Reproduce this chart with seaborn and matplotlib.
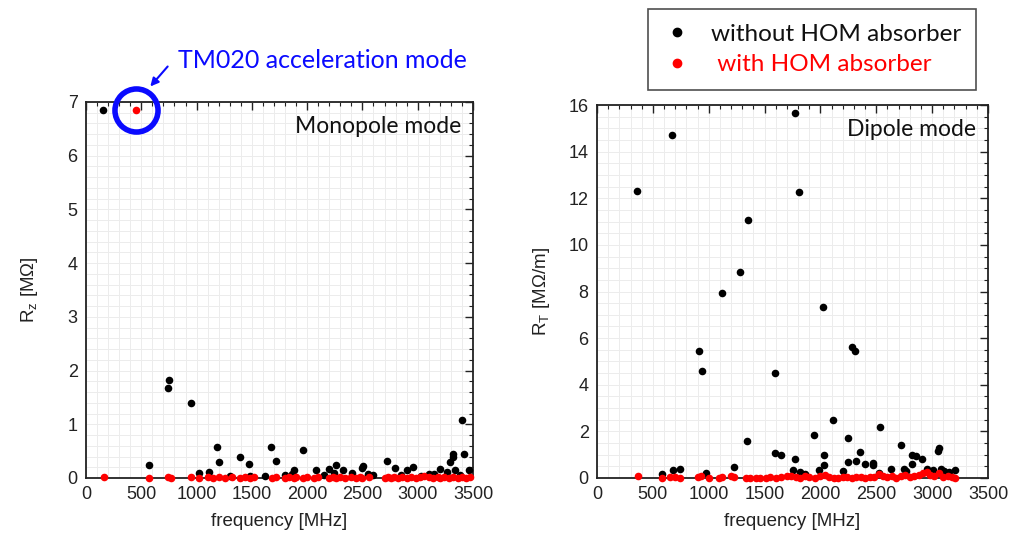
import numpy as np
import pandas as pd
import matplotlib
matplotlib.use("Agg")
import matplotlib.pyplot as plt
from matplotlib.ticker import MultipleLocator
from matplotlib.lines import Line2D
import seaborn as sns

# ---------------- data ----------------
mono_without_f = [155, 574, 738, 753, 952, 1021, 1110, 1184, 1205, 1304, 1393, 1473, 1482,
                  1620, 1670, 1714, 1800, 1863, 1884, 1964, 2083, 2150, 2202, 2247, 2265, 2324,
                  2405, 2497, 2509, 2553, 2600, 2726, 2797, 2850, 2905, 2961, 3030, 3100, 3149,
                  3199, 3268, 3291, 3321, 3321, 3336, 3380, 3402, 3422, 3461]
mono_without_r = [6.85, 0.25, 1.67, 1.83, 1.40, 0.09, 0.12, 0.58, 0.29, 0.04, 0.39, 0.26, 0.04,
                  0.03, 0.57, 0.32, 0.05, 0.08, 0.14, 0.52, 0.14, 0.05, 0.16, 0.10, 0.24, 0.14,
                  0.09, 0.19, 0.23, 0.07, 0.05, 0.32, 0.18, 0.05, 0.15, 0.20, 0.04, 0.08, 0.07,
                  0.17, 0.11, 0.29, 0.45, 0.39, 0.15, 0.05, 1.08, 0.45, 0.15]

mono_with_f = [160, 455, 574, 738, 768, 946, 1021, 1100, 1150, 1200, 1260, 1320, 1390, 1440,
               1480, 1520, 1680, 1720, 1800, 1840, 1880, 1900, 1960, 2000, 2060, 2100, 2200,
               2230, 2260, 2300, 2340, 2400, 2440, 2480, 2500, 2560, 2700, 2730, 2760, 2790,
               2820, 2860, 2900, 2940, 2980, 3020, 3060, 3100, 3140, 3180, 3200, 3240, 3280,
               3320, 3360, 3400, 3440, 3470]
mono_with_r = [0.02, 6.85, 0.0, 0.02, 0.0, 0.01, 0.0, 0.02, 0.0, 0.01, 0.0, 0.02, 0.0, 0.01,
               0.0, 0.02, 0.0, 0.01, 0.0, 0.02, 0.0, 0.01, 0.0, 0.02, 0.0, 0.01, 0.0,
               0.02, 0.0, 0.01, 0.0, 0.02, 0.0, 0.01, 0.0, 0.02, 0.0, 0.01, 0.0, 0.02,
               0.0, 0.01, 0.0, 0.02, 0.0, 0.01, 0.03, 0.02, 0.0, 0.01, 0.0, 0.02, 0.0,
               0.01, 0.0, 0.02, 0.0, 0.01]

dip_without_f = [358, 670, 1772, 1808, 1352, 1280, 1119, 2023, 913, 937, 1590, 2283, 2310,
                 1341, 2117, 1946, 2536, 2243, 2718, 1590, 1650, 2033, 2353, 1775, 2248, 2320,
                 2398, 2470, 2473, 2817, 2856, 2907, 2823, 3048, 3060, 3078, 3108, 3207, 2748,
                 2628, 2763, 2958, 2030, 1988, 2204, 1757, 1814, 1865, 1222, 976, 743, 683,
                 578, 2527, 3009, 3150]
dip_without_r = [12.3, 14.7, 15.65, 12.25, 11.05, 8.85, 7.95, 7.35, 5.45, 4.6, 4.5, 5.6, 5.45,
                 1.57, 2.5, 1.84, 2.17, 1.71, 1.4, 1.07, 0.97, 0.97, 1.1, 0.81, 0.67, 0.74,
                 0.6, 0.66, 0.57, 0.97, 0.94, 0.8, 0.59, 1.14, 1.29, 0.4, 0.3, 0.36, 0.4,
                 0.4, 0.3, 0.4, 0.54, 0.34, 0.31, 0.33, 0.26, 0.19, 0.47, 0.23, 0.4, 0.36,
                 0.19, 0.23, 0.33, 0.26]

dip_with_f = [368, 578, 650, 700, 745, 900, 935, 1000, 1090, 1120, 1200, 1230, 1330, 1370,
              1420, 1460, 1510, 1550, 1600, 1650, 1700, 1740, 1780, 1820, 1860, 1900, 1950,
              2000, 2040, 2080, 2120, 2160, 2200, 2240, 2280, 2320, 2360, 2400, 2440, 2480,
              2520, 2560, 2600, 2640, 2680, 2720, 2760, 2800, 2840, 2880, 2920, 2950, 2980,
              3020, 3060, 3100, 3140, 3180, 3207]
dip_with_r = [0.1, 0.0, 0.05, 0.05, 0.0, 0.05, 0.1, 0.0, 0.0, 0.05, 0.1, 0.05, 0.02, 0.0,
              0.0, 0.02, 0.0, 0.03, 0.02, 0.05, 0.08, 0.1, 0.05, 0.02, 0.1, 0.05, 0.0,
              0.08, 0.12, 0.05, 0.02, 0.0, 0.03, 0.05, 0.0, 0.06, 0.03, 0.02, 0.05, 0.03,
              0.18, 0.1, 0.05, 0.08, 0.02, 0.1, 0.15, 0.05, 0.08, 0.12, 0.2, 0.25, 0.15,
              0.1, 0.2, 0.05, 0.1, 0.03, 0.0]

label_without = "without HOM absorber"
label_with = "with HOM absorber"
annot_text = "TM020 acceleration mode"
tm020_index = 1  # index of the TM020 mode in mono_with arrays

# ---------------- style ----------------
sns.set_style("white")
plt.rcParams['font.family'] = ['Liberation Sans', 'DejaVu Sans']
plt.rcParams['mathtext.fontset'] = 'custom'
plt.rcParams['mathtext.rm'] = 'Liberation Sans'

fig = plt.figure(figsize=(10.12, 5.38), dpi=100)
W, H = 1012, 538
def ax_rect(l, r, t, b):
    return [l / W, 1 - b / H, (r - l) / W, (b - t) / H]

ax1 = fig.add_axes(ax_rect(86, 473, 102, 478))
ax2 = fig.add_axes(ax_rect(597, 988, 105, 478))

ms = 30
def draw(ax, fw, rw, fr, rr):
    sns.scatterplot(x=fw, y=rw, ax=ax, color='black', s=ms, linewidth=0, clip_on=False, zorder=3)
    sns.scatterplot(x=fr, y=rr, ax=ax, color='red', s=ms, linewidth=0, clip_on=False, zorder=4)

draw(ax1, mono_without_f, mono_without_r, mono_with_f, mono_with_r)
draw(ax2, dip_without_f, dip_without_r, dip_with_f, dip_with_r)

def style_axes(ax, ymax, ymaj, ymin):
    ax.set_xlim(0, 3500)
    ax.set_ylim(0, ymax)
    ax.xaxis.set_major_locator(MultipleLocator(500))
    ax.xaxis.set_minor_locator(MultipleLocator(100))
    ax.yaxis.set_major_locator(MultipleLocator(ymaj))
    ax.yaxis.set_minor_locator(MultipleLocator(ymin))
    ax.grid(True, which='both', color='#ececec', linewidth=0.7, zorder=0)
    ax.set_axisbelow(True)
    ax.tick_params(which='both', direction='in', top=True, right=True, colors='#222222',
                   labelcolor='#222222', labelsize=13)
    ax.tick_params(which='major', length=6, width=1.0, pad=6)
    ax.tick_params(which='minor', length=3, width=0.8)
    for s in ax.spines.values():
        s.set_color('#222222')
        s.set_linewidth(1.3)
    ax.set_xlabel("frequency [MHz]", fontsize=13.5, color='#222222', labelpad=7)

style_axes(ax1, 7, 1, 0.2)
style_axes(ax2, 16, 2, 0.5)
ax1.set_ylabel(r"R$_\mathregular{z}$ [MΩ]", fontsize=13.5, color='#222222', labelpad=20)
ax2.set_ylabel(r"R$_\mathregular{T}$ [MΩ/m]", fontsize=13.5, color='#222222', labelpad=12)

ax1.text(0.97, 0.935, "Monopole mode", transform=ax1.transAxes, ha='right', va='center',
         fontsize=16.5, family='Lato', color='#111111')
ax2.text(0.97, 0.935, "Dipole mode", transform=ax2.transAxes, ha='right', va='center',
         fontsize=16.5, family='Lato', color='#111111')

# TM020 highlight
tx, ty = mono_with_f[tm020_index], mono_with_r[tm020_index]
ax1.plot([tx], [ty], 'o', ms=31, mfc='none', mec='#0a0aff', mew=4, clip_on=False, zorder=5)
ax1.annotate("", xy=(tx + 110, ty + 0.4), xytext=(tx + 300, ty + 0.85),
             arrowprops=dict(arrowstyle='-|>', color='#0a0aff', lw=1.5, mutation_scale=12),
             annotation_clip=False)
fig.text(178 / W, 1 - 61 / H, annot_text, fontsize=18, family='Lato', color='#0a0aff',
         ha='left', va='center')

# legend
handles = [Line2D([], [], marker='o', ls='none', color='black', ms=6),
           Line2D([], [], marker='o', ls='none', color='red', ms=6)]
leg = fig.legend(handles, [label_without, " " + label_with], loc='upper left',
                 bbox_to_anchor=(648 / W, 1 - 9 / H), borderaxespad=0, frameon=True,
                 fancybox=False, prop={'family': 'Lato', 'size': 17.5}, handletextpad=0.8,
                 borderpad=0.6, labelspacing=0.4, handlelength=1.2)
leg.get_frame().set_edgecolor('#222222')
leg.get_frame().set_linewidth(1.2)
leg.get_texts()[0].set_color('#111111')
leg.get_texts()[1].set_color('red')

fig.savefig("out.png", dpi=100)
